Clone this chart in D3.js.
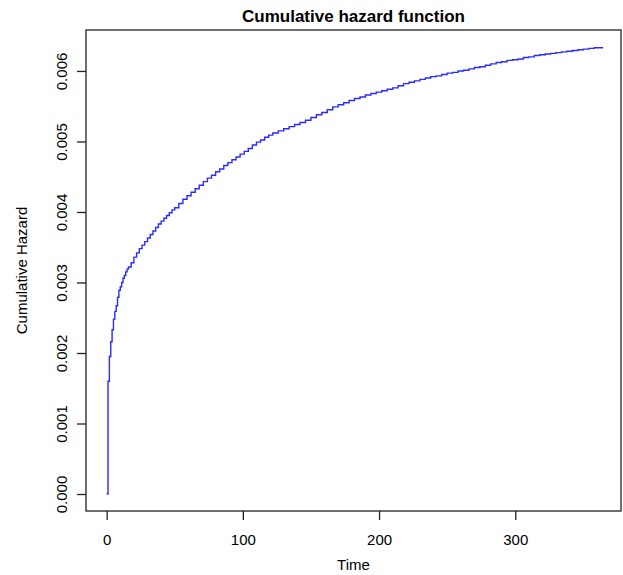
<!DOCTYPE html>
<html>
<head>
<meta charset="utf-8">
<script src="https://cdn.jsdelivr.net/npm/d3@7"></script>
<style>
  body { margin: 0; background: #fff; }
  svg { display: block; font-family: "Liberation Sans", Arial, sans-serif; }
</style>
</head>
<body>
<div id="chart"></div>
<script>
// cumulative hazard (step function)
const time = [0, 1, 2, 3, 4, 5, 6, 7, 8, 9, 10, 11, 12, 13, 14, 15, 16, 18, 20, 22, 24, 26,
  28, 30, 32, 34, 36, 38, 40, 42, 44, 46, 48, 50, 53, 56, 59, 62, 65, 68, 71, 74, 77, 80,
  83, 86, 89, 92, 95, 98, 101, 104, 107, 110, 113, 116, 119, 122, 126, 130, 134, 138, 142,
  146, 150, 154, 158, 162, 166, 170, 174, 178, 182, 186, 190, 194, 198, 202, 206, 210, 214,
  218, 222, 226, 230, 234, 238, 242, 246, 250, 254, 258, 262, 266, 270, 274, 278, 282, 286,
  290, 294, 298, 302, 306, 310, 314, 318, 322, 326, 330, 334, 338, 342, 346, 350, 354, 358, 364];
const hazard = [0, 0.00160, 0.00195, 0.00216, 0.00233, 0.00248, 0.00259, 0.00267, 0.00279,
  0.00289, 0.00294, 0.00300, 0.00306, 0.00310, 0.00315, 0.00319, 0.00322, 0.00328, 0.00336,
  0.00342, 0.00348, 0.00353, 0.00358, 0.00363, 0.00368, 0.00373, 0.00378, 0.00383, 0.00387,
  0.00391, 0.00395, 0.00399, 0.00403, 0.00406, 0.00412, 0.00418, 0.00423, 0.00428, 0.00433,
  0.00438, 0.00443, 0.00448, 0.00452, 0.00457, 0.00461, 0.00466, 0.00470, 0.00474, 0.00478,
  0.00482, 0.00486, 0.00490, 0.00495, 0.00499, 0.00502, 0.00506, 0.00509, 0.00512, 0.00515,
  0.00518, 0.00521, 0.00524, 0.00527, 0.00530, 0.00534, 0.00538, 0.00541, 0.00545, 0.00549,
  0.00552, 0.00555, 0.00558, 0.00561, 0.00563, 0.00566, 0.00568, 0.00570, 0.00572, 0.00574,
  0.00576, 0.00579, 0.00582, 0.00584, 0.00586, 0.00588, 0.00590, 0.00592, 0.00593, 0.00595,
  0.00597, 0.00598, 0.00600, 0.00601, 0.00603, 0.00605, 0.00606, 0.00608, 0.00610, 0.00612,
  0.00613, 0.00615, 0.00616, 0.00617, 0.00619, 0.00620, 0.00622, 0.00623, 0.00624, 0.00625,
  0.00626, 0.00627, 0.00628, 0.00629, 0.00630, 0.00631, 0.00632, 0.00633, 0.00634];
const xTicks = [0, 100, 200, 300];
const yTicks = [0, 0.001, 0.002, 0.003, 0.004, 0.005, 0.006];

const width = 623, height = 575;
const box = { left: 86, right: 621, top: 30, bottom: 511 };

// R-style padding around the data range
const xPad = (d3.max(time) - d3.min(time)) * 0.04 + 0.6;
const yPad = d3.max(hazard) * 0.038;
const x = d3.scaleLinear()
    .domain([d3.min(time) - xPad, d3.max(time) + xPad * 0.9])
    .range([box.left, box.right]);
const y = d3.scaleLinear()
    .domain([-yPad, d3.max(hazard) + yPad])
    .range([box.bottom, box.top]);

const svg = d3.select("#chart").append("svg")
    .attr("width", width)
    .attr("height", height);

// the curve
const pts = time.map((t, i) => [t, hazard[i]]);
svg.append("path")
    .datum(pts)
    .attr("fill", "none")
    .attr("stroke", "#2b2bff")
    .attr("stroke-width", 1.4)
    .attr("d", d3.line()
        .x(d => x(d[0]))
        .y(d => y(d[1]))
        .curve(d3.curveStepAfter));

// plot box
svg.append("rect")
    .attr("x", box.left)
    .attr("y", box.top)
    .attr("width", box.right - box.left)
    .attr("height", box.bottom - box.top)
    .attr("fill", "none")
    .attr("stroke", "#222")
    .attr("stroke-width", 1.3);

// x axis
const gx = svg.append("g")
    .attr("transform", `translate(0,${box.bottom})`)
    .call(d3.axisBottom(x).tickValues(xTicks).tickSize(9).tickFormat(d3.format("d")));
gx.select(".domain").remove();
gx.selectAll(".tick line").attr("stroke", "#222").attr("stroke-width", 1.3);
gx.selectAll(".tick text")
    .attr("y", 0).attr("dy", 0)
    .attr("transform", "translate(0,34)")
    .attr("font-size", 15)
    .attr("fill", "#000")
    .attr("font-family", "Liberation Sans, Arial, sans-serif");

// y axis
const gy = svg.append("g")
    .attr("transform", `translate(${box.left},0)`)
    .call(d3.axisLeft(y).tickValues(yTicks).tickSize(9).tickFormat(d3.format(".3f")));
gy.select(".domain").remove();
gy.selectAll(".tick line").attr("stroke", "#222").attr("stroke-width", 1.3);
gy.selectAll(".tick text")
    .attr("x", 0).attr("dy", 0)
    .attr("transform", "translate(-19,0) rotate(-90)")
    .attr("text-anchor", "middle")
    .attr("font-size", 15)
    .attr("fill", "#000")
    .attr("font-family", "Liberation Sans, Arial, sans-serif");

// titles
const cx = (box.left + box.right) / 2;
svg.append("text")
    .attr("x", cx).attr("y", 22)
    .attr("text-anchor", "middle")
    .attr("font-size", 17)
    .attr("font-weight", "bold")
    .text("Cumulative hazard function");

svg.append("text")
    .attr("x", cx).attr("y", 570)
    .attr("text-anchor", "middle")
    .attr("font-size", 15)
    .text("Time");

svg.append("text")
    .attr("transform", `translate(27,${(box.top + box.bottom) / 2}) rotate(-90)`)
    .attr("text-anchor", "middle")
    .attr("font-size", 15)
    .text("Cumulative Hazard");
</script>
</body>
</html>
